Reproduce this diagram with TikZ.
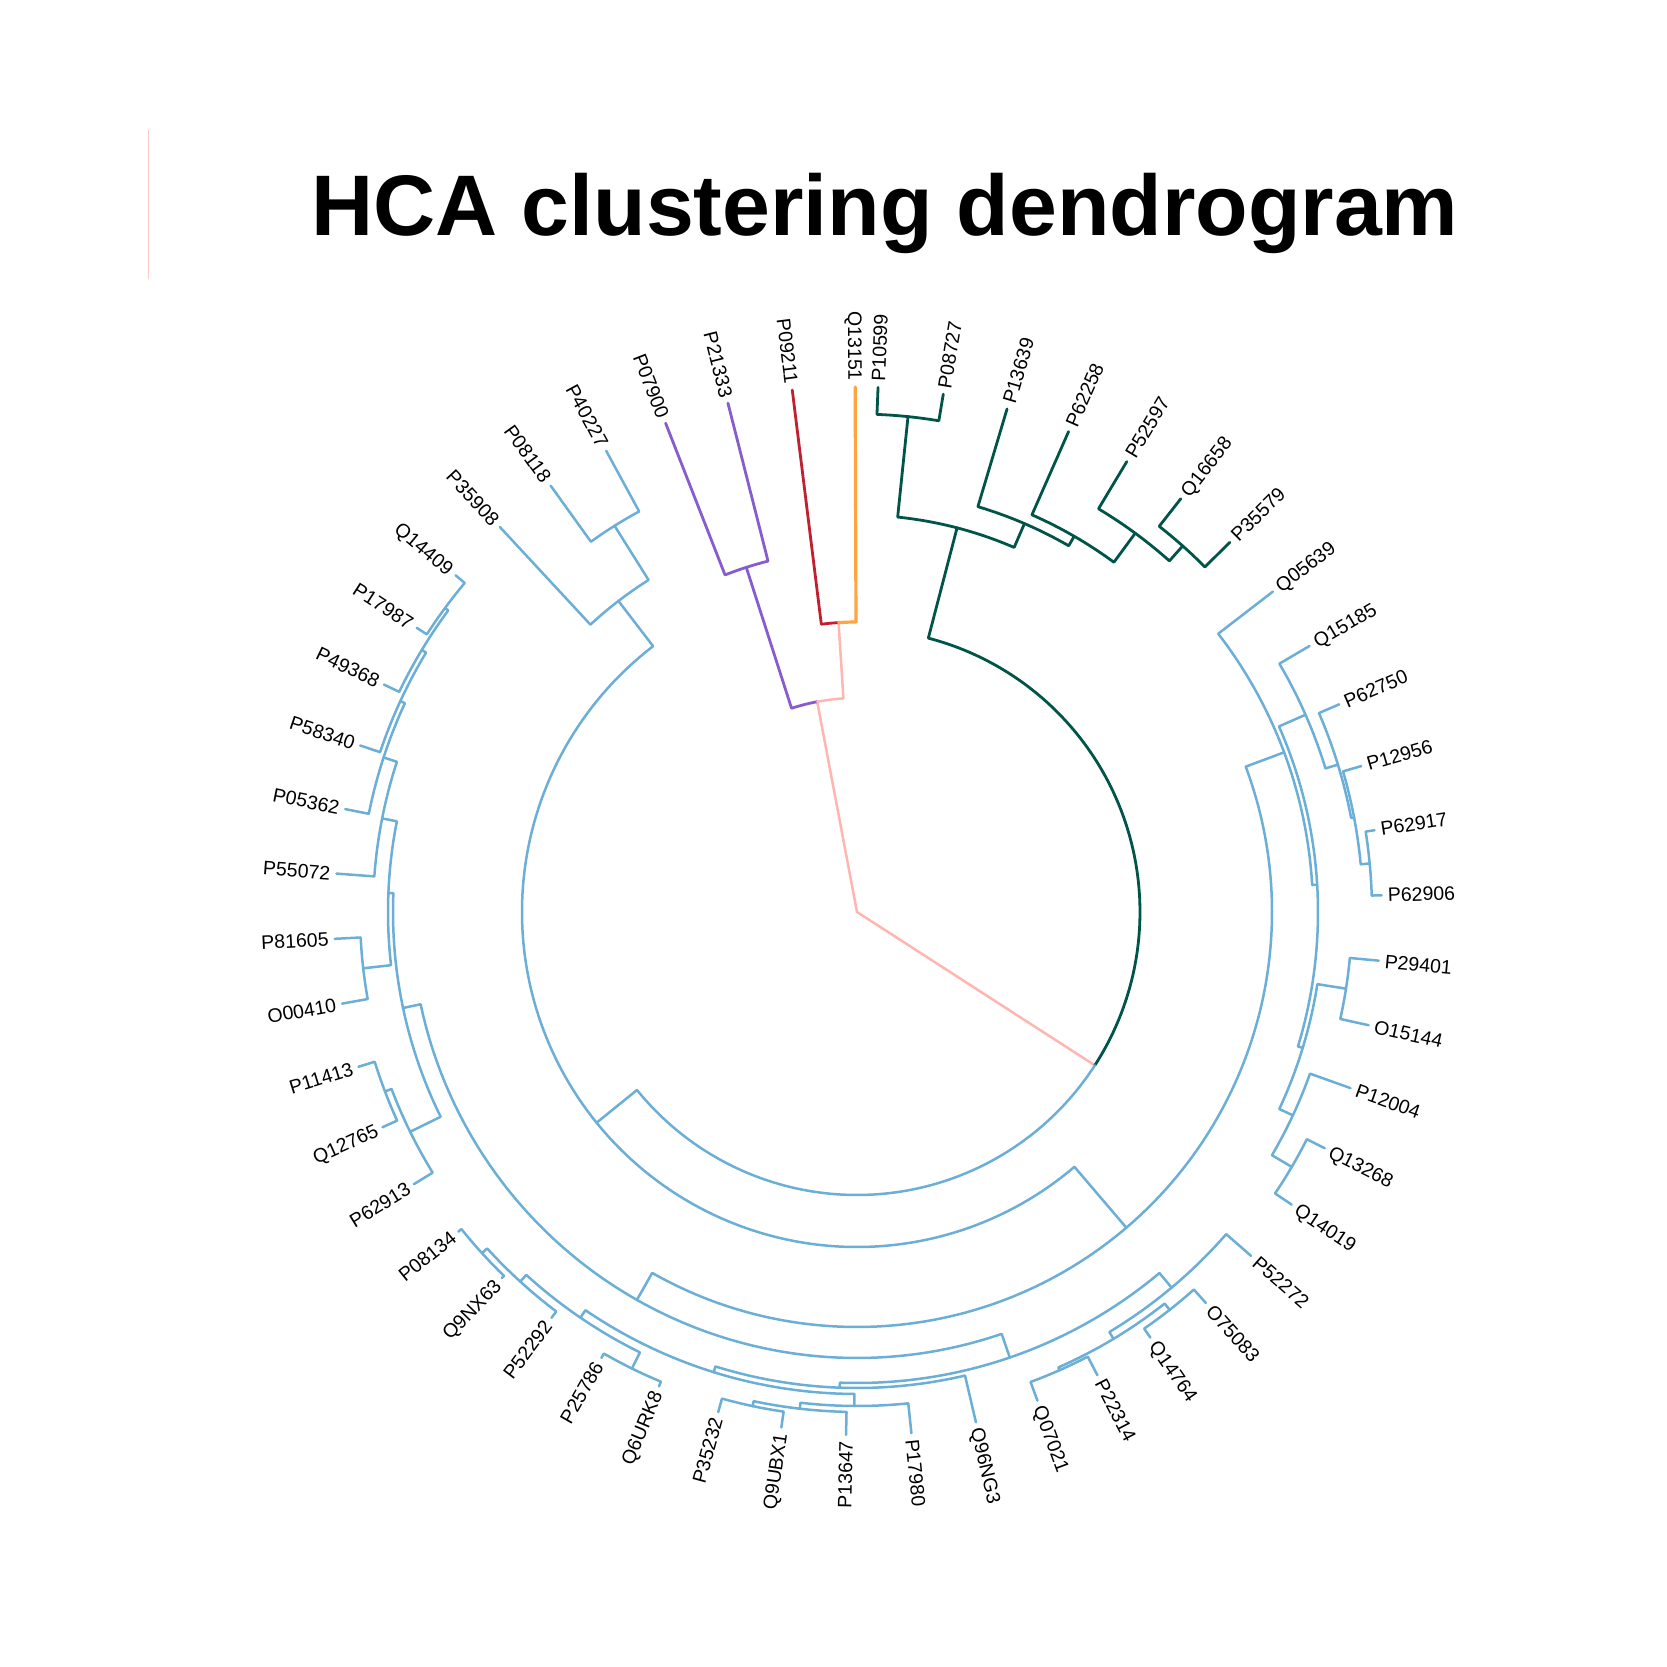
\documentclass[tikz,border=0pt]{standalone}
\usepackage{fontspec}
\setmainfont{Liberation Sans}
\usepackage{tikz}

\definecolor{hcablue}{RGB}{107,174,214}
\definecolor{hcagreen}{RGB}{0,84,72}
\definecolor{hcapurple}{RGB}{136,92,204}
\definecolor{hcapink}{RGB}{255,182,176}
\definecolor{hcared}{RGB}{192,32,48}
\definecolor{hcaorange}{RGB}{255,164,64}
\definecolor{hcafaint}{RGB}{255,200,200}

% one branch: arc at the parent radius, then out to the child
% #1 style, #2 parent radius, #3 parent angle, #4 child radius, #5 child angle
\newcommand{\brn}[5]{\draw[#1] (#3:#2) arc[start angle=#3, end angle=#5, radius=#2pt] -- (#5:#4);}

\tikzset{
  br/.style={line width=2.5pt, line cap=round, line join=round},
  bl/.style={br, draw=hcablue},
  gr/.style={br, draw=hcagreen, line width=2.8pt},
  pu/.style={br, draw=hcapurple, line width=2.8pt},
  pk/.style={br, draw=hcapink},
  rd/.style={br, draw=hcared, line width=2.8pt},
  og/.style={br, draw=hcaorange, line width=3.2pt},
  labr/.style={anchor=west, inner sep=0pt, text depth=0pt, font=\fontsize{19.5}{20}\selectfont},
  labl/.style={labr, anchor=east},
}

\begin{document}
\begin{tikzpicture}[x=1pt,y=1pt]
\useasboundingbox (-857,-755) rectangle (810,912);

%title
\node[anchor=base west, inner sep=0pt, font=\fontsize{86}{90}\selectfont\bfseries] (title) at (-545.5,676) {HCA clustering dendrogram};
\draw[hcafaint, line width=1pt] (-708,782) -- (-708,633);

%root
\coordinate (root) at (0,0);
\draw[pk] (root) -- (100.72:214);
\draw[pk] (root) -- (-32.81:283);

%top: purple, red, orange
\brn{pu}{214}{100.72}{362}{107.81}
\brn{pk}{214}{100.72}{290}{93.64}
\brn{pu}{362}{107.81}{525}{111.38}
\brn{pu}{362}{107.81}{525}{104.23}
\brn{rd}{290}{93.64}{526}{97.07}
\brn{og}{290}{93.64}{525}{90.20}

%green cluster
\brn{gr}{283}{-32.81}{397}{75.40}
\brn{gr}{397}{75.40}{498}{84.12}
\brn{gr}{498}{84.12}{525}{87.70}
\brn{gr}{498}{84.12}{525}{80.54}
\brn{gr}{397}{75.40}{423}{66.68}
\brn{gr}{423}{66.68}{525}{73.39}
\brn{gr}{423}{66.68}{434}{59.97}
\brn{gr}{434}{59.97}{525}{66.23}
\brn{gr}{434}{59.97}{470}{53.70}
\brn{gr}{470}{53.70}{525}{59.08}
\brn{gr}{470}{53.70}{490}{48.34}
\brn{gr}{490}{48.34}{525}{51.92}
\brn{gr}{490}{48.34}{525}{44.76}

%blue cluster, inner rings
\brn{bl}{283}{-32.81}{335}{-141.02}
\brn{bl}{335}{-141.02}{415}{-49.53}
\brn{bl}{335}{-141.02}{392}{-232.51}
\brn{bl}{392}{-232.51}{525}{-227.15}
\brn{bl}{392}{-232.51}{456}{-237.88}
\brn{bl}{456}{-237.88}{525}{-234.30}
\brn{bl}{456}{-237.88}{525}{-241.46}
\brn{bl}{415}{-49.53}{456}{20.50}
\brn{bl}{415}{-49.53}{446}{-119.57}

%blue, right side
\brn{bl}{456}{20.50}{525}{37.61}
\brn{bl}{456}{20.50}{461}{3.39}
\brn{bl}{461}{3.39}{490}{23.74}
\brn{bl}{490}{23.74}{525}{30.45}
\brn{bl}{490}{23.74}{503}{17.04}
\brn{bl}{503}{17.04}{525}{23.30}
\brn{bl}{503}{17.04}{506}{10.77}
\brn{bl}{506}{10.77}{525}{16.14}
\brn{bl}{506}{10.77}{515}{5.41}
\brn{bl}{515}{5.41}{524}{8.98}
\brn{bl}{515}{5.41}{525}{1.83}
\brn{bl}{461}{3.39}{466}{-16.96}
\brn{bl}{466}{-16.96}{495}{-8.91}
\brn{bl}{495}{-8.91}{524}{-5.33}
\brn{bl}{495}{-8.91}{524}{-12.48}
\brn{bl}{466}{-16.96}{481}{-25.01}
\brn{bl}{481}{-25.01}{524}{-19.64}
\brn{bl}{481}{-25.01}{504}{-30.38}
\brn{bl}{504}{-30.38}{524}{-26.80}
\brn{bl}{504}{-30.38}{524}{-33.95}

%blue, bottom
\brn{bl}{446}{-119.57}{471}{-71.07}
\brn{bl}{446}{-119.57}{464}{-168.06}
\brn{bl}{471}{-71.07}{490}{-50.05}
\brn{bl}{490}{-50.05}{523}{-41.11}
\brn{bl}{490}{-50.05}{498}{-59.00}
\brn{bl}{498}{-59.00}{506}{-51.84}
\brn{bl}{506}{-51.84}{524}{-48.26}
\brn{bl}{506}{-51.84}{517}{-55.42}
\brn{bl}{498}{-59.00}{501}{-66.15}
\brn{bl}{501}{-66.15}{522}{-62.57}
\brn{bl}{501}{-66.15}{521}{-69.73}
\brn{bl}{471}{-71.07}{476}{-92.09}
\brn{bl}{476}{-92.09}{524}{-76.88}
\brn{bl}{476}{-92.09}{482}{-107.30}
\brn{bl}{482}{-107.30}{494}{-90.30}
\brn{bl}{494}{-90.30}{524}{-84.04}
\brn{bl}{494}{-90.30}{500}{-96.57}
\brn{bl}{500}{-96.57}{523}{-91.20}
\brn{bl}{500}{-96.57}{505}{-101.93}
\brn{bl}{505}{-101.93}{521}{-98.35}
\brn{bl}{505}{-101.93}{519}{-105.51}
\brn{bl}{482}{-107.30}{491}{-124.29}
\brn{bl}{491}{-124.29}{509}{-116.24}
\brn{bl}{509}{-116.24}{514}{-112.66}
\brn{bl}{509}{-116.24}{514}{-119.82}
\brn{bl}{491}{-124.29}{500}{-132.34}
\brn{bl}{500}{-132.34}{508}{-126.97}
\brn{bl}{500}{-132.34}{507}{-137.71}
\brn{bl}{507}{-137.71}{510}{-134.13}
\brn{bl}{507}{-137.71}{511}{-141.28}

%blue, left side
\brn{bl}{464}{-168.06}{469}{-182.32}
\brn{bl}{469}{-182.32}{484}{-191.15}
\brn{bl}{484}{-191.15}{522}{-184.22}
\brn{bl}{484}{-191.15}{498}{-198.08}
\brn{bl}{498}{-198.08}{522}{-191.37}
\brn{bl}{498}{-198.08}{503}{-204.79}
\brn{bl}{503}{-204.79}{524}{-198.53}
\brn{bl}{503}{-204.79}{508}{-211.05}
\brn{bl}{508}{-211.05}{525}{-205.68}
\brn{bl}{508}{-211.05}{512}{-216.42}
\brn{bl}{512}{-216.42}{524}{-212.84}
\brn{bl}{512}{-216.42}{524}{-219.99}
\brn{bl}{469}{-182.32}{497}{-173.49}
\brn{bl}{497}{-173.49}{523}{-177.06}
\brn{bl}{497}{-173.49}{523}{-169.91}
\brn{bl}{464}{-168.06}{498}{-153.81}
\brn{bl}{498}{-153.81}{520}{-148.44}
\brn{bl}{498}{-153.81}{505}{-159.18}
\brn{bl}{505}{-159.18}{522}{-162.75}
\brn{bl}{505}{-159.18}{521}{-155.60}

%leaf labels, right half
\foreach \a/\r/\t in {87.70/525/P10599, 80.54/525/P08727, 73.39/525/P13639, 66.23/525/P62258, 59.08/525/P52597, 51.92/525/Q16658, 44.76/525/P35579, 37.61/525/Q05639, 30.45/525/Q15185, 23.30/525/P62750, 16.14/525/P12956, 8.98/524/P62917, 1.83/525/P62906, -5.33/524/P29401, -12.48/524/O15144, -19.64/524/P12004, -26.80/524/Q13268, -33.95/524/Q14019, -41.11/523/P52272, -48.26/524/O75083, -55.42/517/Q14764, -62.57/522/P22314, -69.73/521/Q07021, -76.88/524/Q96NG3, -84.04/524/P17980}
{\pgfmathsetmacro\rr{\r+6}
 \node[labr, rotate=\a] (\t) at (\a:\rr) {\t};}

%leaf labels, left half
\foreach \a/\r/\t in {268.80/523/P13647, 261.65/521/Q9UBX1, 254.49/519/P35232, 247.34/514/Q6URK8, 240.18/514/P25786, 233.03/508/P52292, 225.87/510/Q9NX63, 218.72/511/P08134, 211.56/520/P62913, 204.40/521/Q12765, 197.25/522/P11413, 190.09/523/O00410, 182.94/523/P81605, 175.78/522/P55072, 168.63/522/P05362, 161.47/524/P58340, 154.32/525/P49368, 147.16/524/P17987, 140.01/524/Q14409, 132.85/525/P35908, 125.70/525/P08118, 118.54/525/P40227, 111.38/525/P07900, 104.23/525/P21333, 97.07/526/P09211, 90.20/525/Q13151}
{\pgfmathsetmacro\rr{\r+6}
 \node[labl, rotate=\a-180] (\t) at (\a:\rr) {\t};}
\end{tikzpicture}
\end{document}
